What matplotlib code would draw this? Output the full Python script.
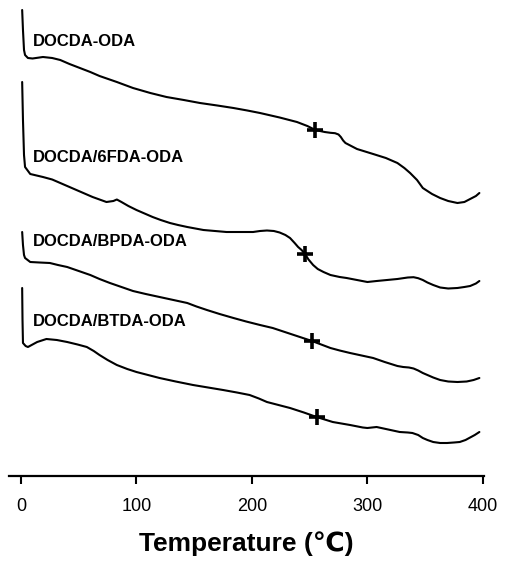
import numpy as np
import matplotlib
matplotlib.use('Agg')
import matplotlib.pyplot as plt

plt.rcParams['font.family'] = ['Liberation Sans', 'DejaVu Sans']

# DSC curves (temperature in C, signal in arbitrary units)
t_oda = [1, 1.7, 2.6, 3.5, 6, 10, 19, 27, 34, 42, 51, 60, 68, 83, 97, 112, 126, 141,
         155, 170, 184, 196, 207, 224, 239, 248, 255, 263, 268, 272, 275, 277, 279, 281,
         286, 291, 298, 305, 316, 326, 332, 337, 343, 348, 356, 363, 370, 378, 384, 389,
         394, 397]
y_oda = [466, 446, 426, 421, 418, 417.5, 419, 418, 416, 412, 408, 404, 400, 394, 388,
         383, 379, 376, 373, 370.5, 368, 365.5, 363, 358.5, 354, 350, 346, 344, 343.2,
         342.8, 341.5, 339, 335.5, 333, 330, 327, 324.5, 322, 318, 313, 308, 303, 296,
         288, 282, 278, 275, 273, 274, 277, 280, 283]

t_6fda = [1, 1.7, 2.6, 3.5, 8, 19, 27, 34, 41, 48, 55, 62, 68, 74, 80, 83, 87, 93, 100,
          107, 114, 121, 129, 136, 144, 151, 158, 168, 178, 190, 201, 207, 213, 219, 224,
          229, 233, 237, 240, 243, 246, 249, 253, 257, 262, 268, 276, 282, 291, 300, 308,
          317, 326, 335, 340, 344, 348, 352, 357, 363, 370, 378, 384, 389, 394, 397]
y_6fda = [394, 356, 321, 309, 302, 299, 296.5, 293, 289.5, 286, 282.5, 279, 276.5, 274,
          275, 276.5, 274, 270, 266, 262.5, 259, 256, 253, 251, 249, 247.5, 246, 245,
          244, 244, 244, 245, 245.5, 245, 243.5, 241, 238, 233, 229, 226, 222, 216.5,
          211, 207, 204, 201, 199, 198, 196, 194, 195, 196, 197, 198.5, 198.8, 197.8,
          196, 193.5, 191, 188.5, 187.5, 188, 189, 190, 192.5, 195]

t_bpda = [1, 1.7, 2.6, 3.5, 8, 16, 25, 32, 40, 50, 60, 68, 77, 87, 97, 108, 120, 132,
          144, 152, 161, 172, 184, 195, 207, 218, 235, 252, 260, 268, 276, 285, 295, 305,
          315, 326, 331, 336, 340, 344, 348, 352, 357, 363, 370, 378, 386, 392, 397]
y_bpda = [244, 231, 221, 218, 214, 213.5, 213, 211, 209, 205, 201, 197, 193, 189, 185,
          182, 179, 176, 173, 169.5, 166, 162, 158, 154.5, 151, 148, 141.5, 135, 131.5,
          128, 125.5, 123, 120.5, 118, 114, 110, 109, 108.5, 107.5, 105.5, 103, 101,
          98.5, 96, 94.5, 94, 94.5, 96, 98]

t_btda = [1, 1.3, 1.7, 4, 6, 10, 14, 22, 31, 40, 49, 57, 63, 68, 75, 83, 92, 100, 110,
          120, 134, 149, 162, 175, 187, 198, 206, 213, 223, 233, 245, 256, 263, 270, 285,
          296, 300, 304, 308, 318, 328, 335, 339, 344, 348, 352, 357, 363, 369, 375, 380,
          385, 389, 393, 397]
y_btda = [188, 156, 133, 130, 129, 131.5, 134, 137, 136, 134, 131.5, 129, 125, 121,
          116, 111, 107, 104, 101, 98, 94.5, 91, 88.5, 86, 83.5, 81, 77.5, 74, 71, 68,
          63.5, 59, 56.5, 54, 51, 48.5, 48, 48.5, 49, 46.5, 44, 43.5, 43, 41, 38, 36,
          34, 33, 33, 33.5, 34, 36, 38.5, 41, 44]

names = ['DOCDA-ODA', 'DOCDA/6FDA-ODA', 'DOCDA/BPDA-ODA', 'DOCDA/BTDA-ODA']
tg = [255, 246, 252, 256]
label_y = [434, 318, 234, 154]

curves = [(t_oda, y_oda), (t_6fda, y_6fda), (t_bpda, y_bpda), (t_btda, y_btda)]

fig = plt.figure(figsize=(5.07, 5.61), dpi=100)
ax = fig.add_axes([9 / 507, 85 / 561, 475 / 507, 476 / 561])

for (t, y), name, g, ly in zip(curves, names, tg, label_y):
    ax.plot(t, y, color='black', lw=1.5, solid_joinstyle='round', solid_capstyle='round')
    ax.plot([g], [np.interp(g, t, y)], marker='+', color='black',
            markersize=11, markeredgewidth=2.6)
    ax.text(10.4, ly, name, fontsize=12, fontweight='bold', ha='left', va='center')

ax.set_xlim(-10.4, 401)
ax.set_ylim(0, 476)
ax.set_xticks([0, 100, 200, 300, 400])
ax.set_yticks([])
for s in ['top', 'right', 'left']:
    ax.spines[s].set_visible(False)
ax.spines['bottom'].set_linewidth(1.6)
ax.tick_params(axis='x', direction='out', length=5.5, width=1.5, pad=10, labelsize=13)
ax.set_xlabel('Temperature (℃)', fontsize=19, fontweight='bold', labelpad=12)

fig.savefig('out.png', dpi=100)
